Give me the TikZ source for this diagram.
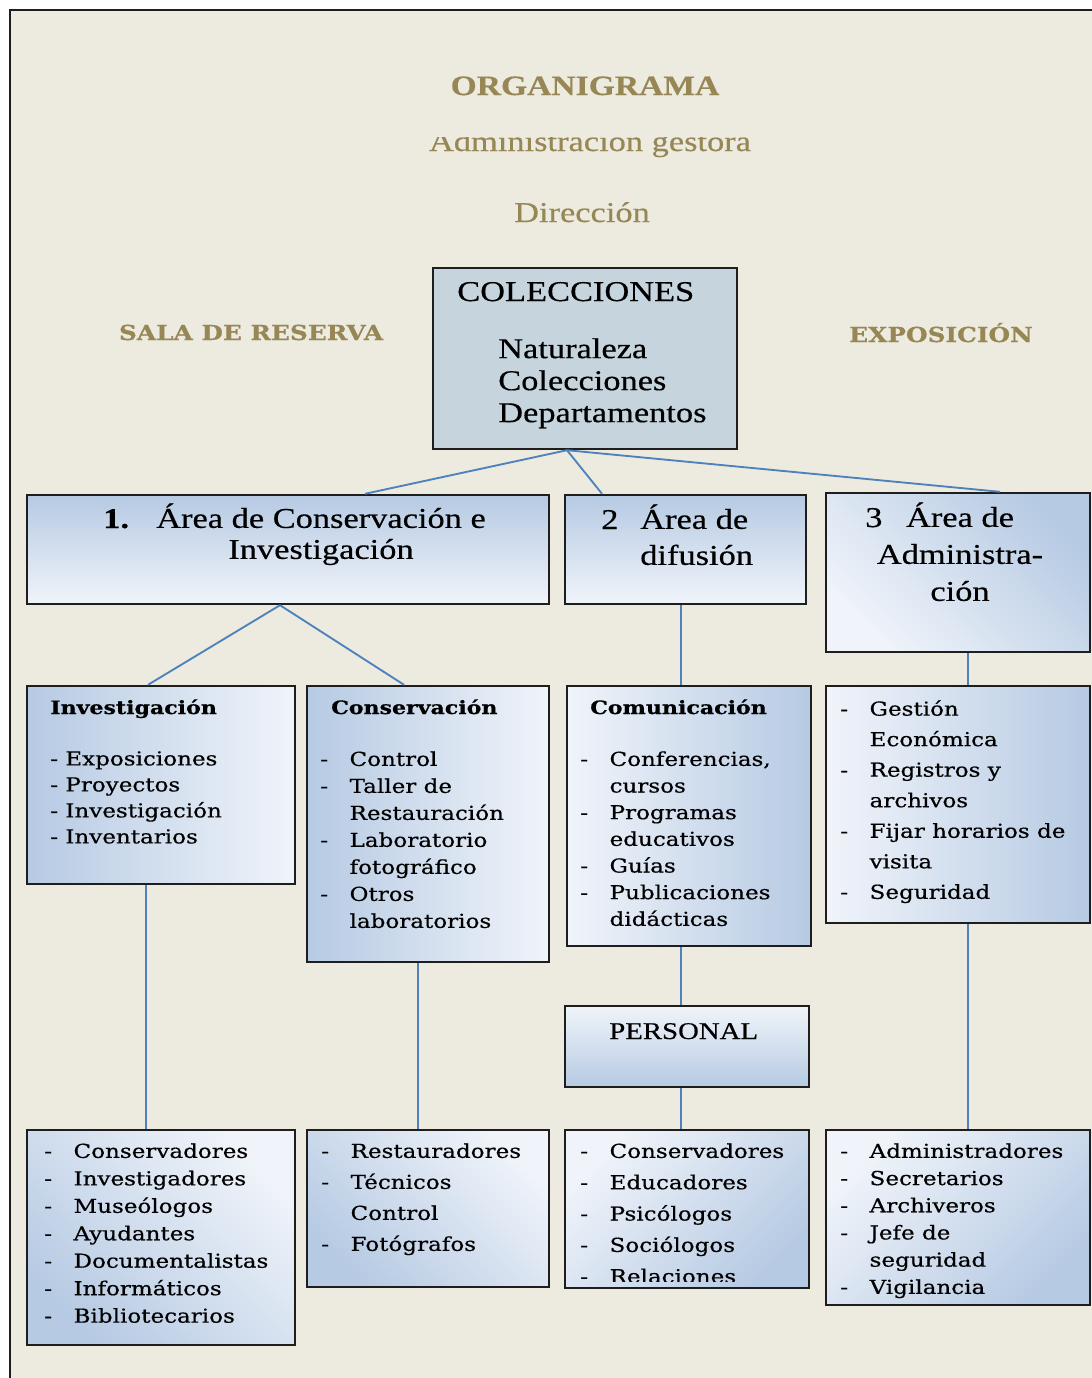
\documentclass[tikz,border=0pt]{standalone}
\usepackage{fontspec}
\usetikzlibrary{fit,calc}
\newfontfamily\serifancho[FakeStretch=1.2,FakeBold=0.4]{Liberation Serif}
\newfontfamily\serifcaja[FakeStretch=1.2,FakeBold=0.5]{DejaVu Serif}
\definecolor{fondo}{RGB}{237,235,224}
\definecolor{oro}{RGB}{150,135,85}
\definecolor{azul}{RGB}{79,129,189}
\definecolor{azulosc}{RGB}{182,202,227}
\definecolor{azulcla}{RGB}{240,244,250}
\definecolor{gris}{RGB}{198,212,222}
\definecolor{borde}{RGB}{30,30,30}
\newcommand{\guion}{\makebox[22pt][l]{-}}
\newcommand{\sangria}{\hspace*{22pt}}

\begin{document}
\begin{tikzpicture}[x=0.75pt, y=-0.75pt,
  caja/.style={draw=borde, line width=1.8pt, inner sep=0pt},
  enlace/.style={draw=azul, line width=1.4pt},
  titulo/.style={text=oro, anchor=base, inner sep=0pt},
  grande/.style={anchor=north west, inner sep=0pt, align=left,
    font=\serifancho\fontsize{21.5}{#1}\selectfont},
  lista/.style={anchor=north west, inner sep=0pt, align=left,
    font=\serifcaja\fontsize{14.4}{#1}\selectfont},
  cabecera/.style={anchor=base west, inner sep=0pt,
    font=\serifcaja\bfseries\fontsize{13.8}{17}\selectfont}]

\useasboundingbox (0,0) rectangle (1092,1378);
\fill[white] (0,0) rectangle (1092,1378);
\fill[fondo] (10,10) rectangle (1092,1378);
\draw[borde, line width=1.6pt] (10,1378) -- (10,10) -- (1092,10);

% encabezado
\node[titulo, font=\serifancho\bfseries\fontsize{21}{24}\selectfont] (organigrama) at (585,95) {ORGANIGRAMA};
\begin{scope}
  \clip (300,137) rectangle (900,170);
  \node[titulo, font=\serifancho\fontsize{21.5}{24}\selectfont] (gestora) at (590,151) {Administracion gestora};
\end{scope}
\node[titulo, font=\serifancho\fontsize{21.5}{24}\selectfont] (direccion) at (582,222) {Dirección};
\node[titulo, font=\serifcaja\bfseries\fontsize{15.5}{18}\selectfont] (reserva) at (251,340) {SALA DE RESERVA};
\node[titulo, font=\serifcaja\bfseries\fontsize{15.5}{18}\selectfont] (exposicion) at (941,342) {EXPOSICIÓN};

% cajas
\node[caja, fill=gris, fit={(433,268) (737,449)}] (colecciones) {};
\node[caja, top color=azulosc, bottom color=azulcla, fit={(27,495) (549,604)}] (area1) {};
\node[caja, top color=azulosc, bottom color=azulcla, fit={(565,495) (806,604)}] (area2) {};
\node[caja, top color=azulosc, bottom color=azulcla, shading angle=-45, fit={(826,493) (1090,652)}] (area3) {};
\node[caja, left color=azulosc, right color=azulcla, fit={(27,686) (295,884)}] (investigacion) {};
\node[caja, left color=azulosc, right color=azulcla, fit={(307,686) (549,962)}] (conservacion) {};
\node[caja, left color=azulcla, right color=azulosc, fit={(567,686) (811,946)}] (comunicacion) {};
\node[caja, left color=azulcla, right color=azulosc, fit={(826,686) (1090,923)}] (gestion) {};
\node[caja, top color=azulcla, bottom color=azulosc, fit={(565,1006) (809,1087)}] (personal) {};
\node[caja, top color=azulcla, bottom color=azulosc, shading angle=-45, fit={(27,1130) (295,1345)}] (personal1) {};
\node[caja, top color=azulcla, bottom color=azulosc, shading angle=-45, fit={(307,1130) (549,1287)}] (personal2) {};
\node[caja, top color=azulcla, bottom color=azulosc, shading angle=45, fit={(565,1130) (809,1288)}] (personal3) {};
\node[caja, top color=azulcla, bottom color=azulosc, shading angle=45, fit={(826,1130) (1090,1305)}] (personal4) {};

% enlaces
\draw[enlace] ($(colecciones.south)+(-18,0)$) -- ($(area1.north)+(77,0)$);
\draw[enlace] ($(colecciones.south)+(-18,0)$) -- ($(area2.north)+(-83.5,0)$);
\draw[enlace] ($(colecciones.south)+(-18,0)$) -- ($(area3.north)+(42,0)$);
\draw[enlace] ($(area1.south)+(-8,0)$) -- ($(investigacion.north)+(-13,0)$);
\draw[enlace] ($(area1.south)+(-8,0)$) -- ($(conservacion.north)+(-24,0)$);
\draw[enlace] ($(area2.south)+(-4.5,0)$) -- ($(comunicacion.north)+(-8,0)$);
\draw[enlace] ($(area3.south)+(10,0)$) -- ($(gestion.north)+(10,0)$);
\draw[enlace] ($(investigacion.south)+(-15,0)$) -- ($(personal1.north)+(-15,0)$);
\draw[enlace] ($(conservacion.south)+(-10,0)$) -- ($(personal2.north)+(-10,0)$);
\draw[enlace] ($(comunicacion.south)+(-8,0)$) -- ($(personal.north)+(-6,0)$);
\draw[enlace] ($(personal.south)+(-6,0)$) -- ($(personal3.north)+(-6,0)$);
\draw[enlace] ($(gestion.south)+(10,0)$) -- ($(personal4.north)+(10,0)$);

% textos
\node[grande=24, anchor=base west] (colecciones-t) at (457,301) {COLECCIONES};
\node[grande=24] (colecciones-l) at (498,338) {Naturaleza\\Colecciones\\Departamentos};
\node[grande=24, anchor=base west] (num1) at (103,528) {\bfseries 1.};
\node[grande=23.25, anchor=north, align=center] (area1-t) at (321,503) {Área de Conservación e\\Investigación};
\node[grande=27, anchor=base west] (num2) at (601,529) {2};
\node[grande=27] (area2-t) at (640,504) {Área de\\difusión};
\node[grande=27.75, anchor=base west] (num3) at (865,527) {3};
\node[grande=27.75, anchor=north, align=center] (area3-t) at (960,502) {Área de\\Administra-\\ción};

\node[cabecera] (investigacion-t) at (50,714) {Investigación};
\node[lista=19.5] (investigacion-l) at (50,751) {- Exposiciones\\- Proyectos\\- Investigación\\- Inventarios};
\node[cabecera] (conservacion-t) at (331,714) {Conservación};
\node[lista=20.25] (conservacion-l) at (320,751) {\guion Control\\\guion Taller de\\\sangria Restauración\\\guion Laboratorio\\\sangria fotográfico\\\guion Otros\\\sangria laboratorios};
\node[cabecera] (comunicacion-t) at (590,714) {Comunicación};
\node[lista=20] (comunicacion-l) at (580,751) {\guion Conferencias,\\\sangria cursos\\\guion Programas\\\sangria educativos\\\guion Guías\\\guion Publicaciones\\\sangria didácticas};
\node[lista=22.9] (gestion-l) at (840,700) {\guion Gestión\\\sangria Económica\\\guion Registros y\\\sangria archivos\\\guion Fijar horarios de\\\sangria visita\\\guion Seguridad};
\node[grande=24, anchor=base west, font=\serifancho\fontsize{18}{21}\selectfont] (personal-t) at (609,1039) {PERSONAL};

\node[lista=20.6] (personal1-l) at (44,1143) {\guion Conservadores\\\guion Investigadores\\\guion Museólogos\\\guion Ayudantes\\\guion Documentalistas\\\guion Informáticos\\\guion Bibliotecarios};
\node[lista=23.25] (personal2-l) at (321,1143) {\guion Restauradores\\\guion Técnicos\\\sangria Control\\\guion Fotógrafos};
\begin{scope}
  \clip (565,1130) rectangle (809,1281);
  \node[lista=23.5] (personal3-l) at (580,1143) {\guion Conservadores\\\guion Educadores\\\guion Psicólogos\\\guion Sociólogos\\\guion Relaciones};
\end{scope}
\node[lista=20.4] (personal4-l) at (840,1143) {\guion Administradores\\\guion Secretarios\\\guion Archiveros\\\guion Jefe de\\\sangria seguridad\\\guion Vigilancia};
\end{tikzpicture}
\end{document}
